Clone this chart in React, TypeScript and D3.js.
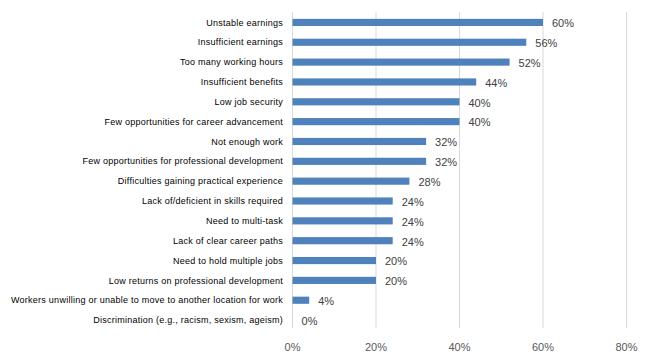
import React from "react";
import * as d3 from "d3";

const categories = [
  "Unstable earnings",
  "Insufficient earnings",
  "Too many working hours",
  "Insufficient benefits",
  "Low job security",
  "Few opportunities for career advancement",
  "Not enough work",
  "Few opportunities for professional development",
  "Difficulties gaining practical experience",
  "Lack of/deficient in skills required",
  "Need to multi-task",
  "Lack of clear career paths",
  "Need to hold multiple jobs",
  "Low returns on professional development",
  "Workers unwilling or unable to move to another location for work",
  "Discrimination (e.g., racism, sexism, ageism)",
];
const values = [60, 56, 52, 44, 40, 40, 32, 32, 28, 24, 24, 24, 20, 20, 4, 0];
const xTicks = [0, 20, 40, 60, 80];

export default function App() {
  const W = 645, H = 356;
  const x = d3.scaleLinear().domain([0, 80]).range([292.5, 626.5]);
  const y = d3.scaleBand<string>().domain(categories).range([12.5, 330]).paddingInner(0.64).paddingOuter(0.32);
  const font = "'Liberation Sans', Arial, sans-serif";
  return (
    <svg width={W} height={H} style={{ position: "absolute", left: 0, top: 0 }}>
      <rect width={W} height={H} fill="#fff" />
      {xTicks.map((t) => (
        <line key={t} x1={x(t)} x2={x(t)} y1={12} y2={328} stroke="#d9d9d9" strokeWidth={1} />
      ))}
      {categories.map((c, i) => (
        <g key={c}>
          <rect x={x(0)} y={y(c)!} width={x(values[i]) - x(0)} height={y.bandwidth()} fill="#4f81bd" />
          <text x={283} y={y(c)! + y.bandwidth() / 2} dy="0.35em" textAnchor="end" fontFamily={font} fontSize={9} letterSpacing={0.25} fill="#000">
            {c}
          </text>
          <text x={x(values[i]) + 9} y={y(c)! + y.bandwidth() / 2 + 1} dy="0.35em" fontFamily={font} fontSize={11} fill="#404040">
            {values[i]}%
          </text>
        </g>
      ))}
      {xTicks.map((t) => (
        <text key={t} x={x(t)} y={347} dy="0.35em" textAnchor="middle" fontFamily={font} fontSize={11} fill="#595959">
          {t}%
        </text>
      ))}
    </svg>
  );
}
